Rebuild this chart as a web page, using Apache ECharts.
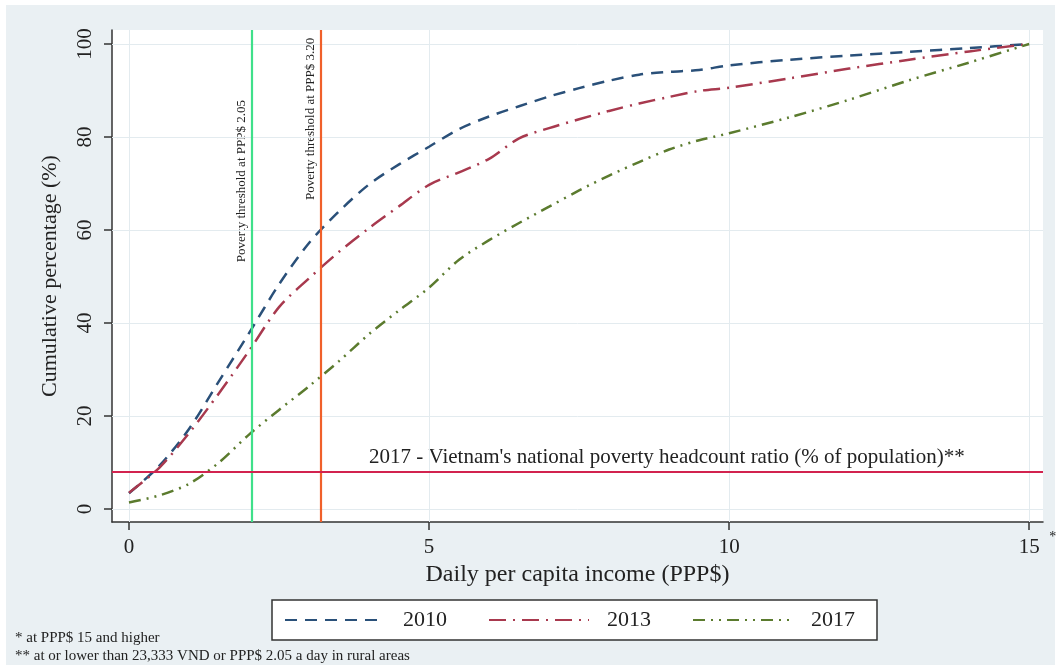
<!DOCTYPE html>
<html><head><meta charset="utf-8">
<script src="https://cdn.jsdelivr.net/npm/echarts@6/dist/echarts.min.js"></script>
<style>html,body{margin:0;padding:0;background:#fff}#c{width:1061px;height:670px}</style>
</head><body><div id="c"></div>
<script>
// ---- data ----
const income2010 = [0, 0.5, 1, 1.5, 2, 2.5, 3, 3.5, 4, 4.5, 5, 5.5, 6, 6.5, 7, 7.5, 8, 8.5, 9, 9.5, 10, 11, 12, 13, 14, 15];
const pct2010    = [3.4, 9.2, 17.2, 27.5, 37.8, 48.3, 57.2, 64.0, 69.8, 74.1, 77.9, 81.7, 84.4, 86.6, 88.7, 90.5, 92.1, 93.4, 94.0, 94.4, 95.4, 96.6, 97.5, 98.3, 99.1, 100];
const income2013 = [0, 0.5, 1, 1.5, 2, 2.5, 3, 3.5, 4, 4.5, 5, 5.5, 6, 6.5, 7, 7.5, 8, 8.5, 9, 9.5, 10, 11, 12, 13, 14, 15];
const pct2013    = [3.5, 8.8, 16.3, 24.9, 34.0, 43.4, 49.6, 55.3, 60.4, 65.1, 69.7, 72.4, 75.3, 79.7, 81.9, 83.8, 85.6, 87.2, 88.6, 89.9, 90.6, 92.6, 94.7, 96.6, 98.4, 100];
const income2017 = [0, 0.5, 1, 1.5, 2, 2.5, 3, 3.5, 4, 4.5, 5, 5.5, 6, 6.5, 7, 7.5, 8, 8.5, 9, 9.5, 10, 11, 12, 13, 14, 15];
const pct2017    = [1.4, 2.9, 5.4, 10.0, 16.0, 21.3, 26.4, 31.8, 37.6, 42.7, 47.6, 53.6, 57.8, 61.5, 65.0, 68.5, 71.7, 74.6, 77.3, 79.3, 80.8, 84.2, 88.0, 92.2, 96.0, 100];
const seriesNames = ['2010', '2013', '2017'];
const xTicks = [0, 5, 10, 15];
const yTicks = [0, 20, 40, 60, 80, 100];
const thresholds = [2.05, 3.20];
const thresholdLabels = ['Poverty threshold at PPP$ 2.05', 'Poverty threshold at PPP$ 3.20'];
const thresholdLabelY = [70.5, 83.9];
const nationalRatio = 8;
const nationalLabel = "2017 - Vietnam's national poverty headcount ratio (% of population)**";
const nationalLabelX = 4.0;
const xTitle = 'Daily per capita income (PPP$)';
const yTitle = 'Cumulative percentage (%)';
const footnotes = ['* at PPP$ 15 and higher', '** at or lower than 23,333 VND or PPP$ 2.05 a day in rural areas'];

const FONT = "'Liberation Serif', 'DejaVu Serif', serif";
const TXT = '#222';
const zip = (xs, ys) => xs.map((x, i) => [x, ys[i]]);

const chart = echarts.init(document.getElementById('c'), null, {renderer: 'canvas'});

function lineSeries(name, xs, ys, color, dash) {
  return {
    name, type: 'line', data: zip(xs, ys), symbol: 'none', smooth: 0.3,
    lineStyle: {color, width: 2.5, type: dash}, itemStyle: {color}, z: 3
  };
}

const option = {
  backgroundColor: '#ffffff',
  animation: false,
  grid: {left: 112, right: 18, top: 30, bottom: 148, show: true, backgroundColor: '#ffffff', borderWidth: 0},
  xAxis: {
    type: 'value', min: -0.283, max: 15.23,
    axisLine: {show: true, onZero: false, lineStyle: {color: '#333', width: 1.5}},
    axisTick: {show: true, length: 8, customValues: xTicks, lineStyle: {color: '#333', width: 1.5}},
    axisLabel: {customValues: xTicks, margin: 15, fontSize: 21, fontFamily: FONT, color: TXT},
    splitLine: {show: false},
    name: xTitle, nameLocation: 'middle', nameGap: 40,
    nameTextStyle: {fontSize: 24, fontFamily: FONT, color: TXT}
  },
  yAxis: {
    type: 'value', min: -2.8, max: 103,
    axisLine: {show: true, onZero: false, lineStyle: {color: '#333', width: 1.5}},
    axisTick: {show: true, length: 8, customValues: yTicks, lineStyle: {color: '#333', width: 1.5}},
    axisLabel: {customValues: yTicks, rotate: 90, margin: 16, fontSize: 21, fontFamily: FONT, color: TXT},
    splitLine: {show: false},
    name: yTitle, nameLocation: 'middle', nameRotate: 90, nameGap: 51,
    nameTextStyle: {fontSize: 22, fontFamily: FONT, color: TXT}
  },
  legend: {
    data: seriesNames, left: 272, top: 600, orient: 'horizontal',
    backgroundColor: '#fff', borderColor: '#333', borderWidth: 1.5, borderRadius: 0,
    padding: [9, 22, 9, 12], itemWidth: 100, itemHeight: 14, itemGap: 41,
    itemStyle: {opacity: 0},
    textStyle: {fontFamily: FONT, fontSize: 22, color: TXT, padding: [0, 0, 0, 13]}
  },
  series: [
    {
      type: 'line', data: [], silent: true, z: 1,
      markLine: {
        silent: true, symbol: ['none', 'none'], z: 1, label: {show: false},
        lineStyle: {color: '#e3ebef', width: 1, type: 'solid'},
        data: xTicks.map(v => ({xAxis: v})).concat(yTicks.map(v => ({yAxis: v})))
      }
    },
    lineSeries(seriesNames[0], income2010, pct2010, '#2a5079', [12, 8]),
    lineSeries(seriesNames[1], income2013, pct2013, '#a8394e', [17, 7, 2, 7]),
    lineSeries(seriesNames[2], income2017, pct2017, '#5b7b2e', [12, 6, 2, 6, 2, 6]),
    {
      type: 'line', data: [], silent: true, z: 4,
      markLine: {
        silent: true, symbol: ['none', 'none'], z: 4, label: {show: false},
        data: [
          {xAxis: thresholds[0], lineStyle: {color: '#3fe08a', width: 2.2, type: 'solid'}},
          {xAxis: thresholds[1], lineStyle: {color: '#f0602a', width: 2.2, type: 'solid'}},
          {yAxis: nationalRatio, lineStyle: {color: '#d2234f', width: 2, type: 'solid'}}
        ]
      }
    }
  ]
};
chart.setOption(option);

const px = (x, y) => chart.convertToPixel({xAxisIndex: 0, yAxisIndex: 0}, [x, y]);
const graphics = [
  {type: 'rect', z: -100, silent: true, shape: {x: 6, y: 5, width: 1049, height: 660}, style: {fill: '#eaf0f3'}}
];
thresholds.forEach((t, i) => {
  const p = px(t, thresholdLabelY[i]);
  graphics.push({
    type: 'text', x: p[0] - 10, y: p[1], rotation: Math.PI / 2, silent: true,
    style: {text: thresholdLabels[i], font: `13px ${FONT}`, fill: TXT, align: 'center', verticalAlign: 'middle'}
  });
});
const np = px(nationalLabelX, nationalRatio);
graphics.push({
  type: 'text', x: np[0], y: np[1] - 14, silent: true,
  style: {text: nationalLabel, font: `21px ${FONT}`, fill: TXT, align: 'left', verticalAlign: 'middle'}
});
const sp = px(xTicks[xTicks.length - 1], 0);
graphics.push({
  type: 'text', x: sp[0] + 20, y: 537, silent: true,
  style: {text: '*', font: `14px ${FONT}`, fill: TXT, align: 'left', verticalAlign: 'middle'}
});
footnotes.forEach((f, i) => {
  graphics.push({
    type: 'text', x: 15, y: 638 + i * 18, silent: true,
    style: {text: f, font: `15px ${FONT}`, fill: TXT, align: 'left', verticalAlign: 'middle'}
  });
});
chart.setOption({graphic: graphics});
</script>
</body></html>
